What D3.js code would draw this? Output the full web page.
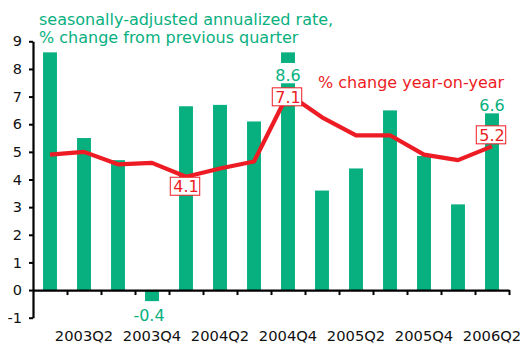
<!DOCTYPE html>
<html>
<head>
<meta charset="utf-8">
<script src="https://cdn.jsdelivr.net/npm/d3@7"></script>
<style>
  html, body { margin: 0; padding: 0; background: #fff; }
  svg { display: block; font-family: "DejaVu Sans", Verdana, sans-serif; }
</style>
</head>
<body>
<svg id="chart" width="522" height="345"></svg>
<script>
// Quarterly growth: bars = seasonally-adjusted annualized q/q rate, line = year-on-year change
const quarters = ["2003Q1","2003Q2","2003Q3","2003Q4","2004Q1","2004Q2","2004Q3",
                  "2004Q4","2005Q1","2005Q2","2005Q3","2005Q4","2006Q1","2006Q2"];
const qoqAnnualized = [8.6, 5.5, 4.7, -0.4, 6.65, 6.7, 6.1, 8.6, 3.6, 4.4, 6.5, 4.85, 3.1, 6.6];
const yoyChange     = [4.9, 5.0, 4.55, 4.6, 4.1, 4.4, 4.65, 7.1, 6.25, 5.6, 5.6, 4.9, 4.7, 5.2];
const yTicks = [-1, 0, 1, 2, 3, 4, 5, 6, 7, 8, 9];
const xTickLabels = ["2003Q2","2003Q4","2004Q2","2004Q4","2005Q2","2005Q4","2006Q2"];
const barLabelIdx = [3, 7, 13];
const lineLabelIdx = [4, 7, 13];
const titleLines = ["seasonally-adjusted annualized rate,", "% change from previous quarter"];
const lineTitle = "% change year-on-year";

const GREEN = "#08b080";
const RED = "#ed1c24";
// plain hyphen-minus for negative numbers
const locale = d3.formatLocale({ decimal: ".", thousands: ",", grouping: [3], currency: ["", ""], minus: "-" });
const fmt = locale.format(".1f");
const fmtInt = locale.format("d");

const svg = d3.select("#chart");
const plotLeft = 33, plotRight = 509, plotTop = 41.3, plotBottom = 317.7;

const x = d3.scaleBand().domain(quarters).range([plotLeft, plotRight]).padding(0);
const xEdge = d3.scaleLinear().domain([0, quarters.length]).range([plotLeft, plotRight]);
const y = d3.scaleLinear().domain([-1, 9]).range([plotBottom, plotTop]);
const barW = x.bandwidth() * 0.41;
const cx = d => x(d) + x.bandwidth() / 2;

// bars
svg.append("g").selectAll("rect")
  .data(quarters)
  .join("rect")
  .attr("x", (d) => cx(d) - barW / 2)
  .attr("width", barW)
  .attr("y", (d, i) => y(Math.max(0, qoqAnnualized[i])))
  .attr("height", (d, i) => Math.abs(y(qoqAnnualized[i]) - y(0)))
  .attr("fill", GREEN);

// y axis
const yAxis = svg.append("g")
  .attr("transform", `translate(${plotLeft},0)`)
  .call(d3.axisLeft(y).tickValues(yTicks).tickSize(4).tickSizeOuter(0).tickPadding(7).tickFormat(fmtInt));
yAxis.select(".domain").attr("stroke", "#000").attr("stroke-width", 2.2);
yAxis.selectAll(".tick line").attr("stroke", "#000").attr("stroke-width", 2);
yAxis.selectAll(".tick text").attr("font-size", 14.5).attr("fill", "#111")
  .attr("font-family", "DejaVu Sans, Verdana, sans-serif");

// x axis: tick marks at quarter boundaries
const xEdgeAxis = svg.append("g")
  .attr("transform", `translate(0,${y(0)})`)
  .call(d3.axisBottom(xEdge).tickValues(d3.range(1, quarters.length + 1)).tickSize(5).tickSizeOuter(0).tickFormat(""));
xEdgeAxis.select(".domain").attr("stroke", "#000").attr("stroke-width", 2.2);
xEdgeAxis.selectAll(".tick line").attr("stroke", "#000").attr("stroke-width", 2);

// x axis labels at every other quarter
const xLab = svg.append("g")
  .attr("transform", `translate(0,${y(0)})`)
  .call(d3.axisBottom(x).tickValues(xTickLabels).tickSize(0).tickPadding(40.9));
xLab.select(".domain").remove();
xLab.selectAll(".tick text").attr("font-size", 14.7).attr("fill", "#111")
  .attr("font-family", "DejaVu Sans, Verdana, sans-serif");

// year-on-year line
const line = d3.line().x((d, i) => cx(quarters[i])).y(d => y(d));
svg.append("path")
  .datum(yoyChange)
  .attr("d", line)
  .attr("fill", "none")
  .attr("stroke", RED)
  .attr("stroke-width", 4.2)
  .attr("stroke-linejoin", "round");

// boxed line labels
const boxPlace = { 4: "below", 7: "center", 13: "above" };
const boxG = svg.append("g");
lineLabelIdx.forEach(i => {
  const px = cx(quarters[i]), py = y(yoyChange[i]);
  const g = boxG.append("g");
  const t = g.append("text")
    .text(fmt(yoyChange[i]))
    .attr("font-size", 16)
    .attr("fill", RED)
    .attr("text-anchor", "middle")
    .attr("x", px);
  const h = 18, w = t.node().getComputedTextLength() + 4;
  let boxTop;
  if (boxPlace[i] === "below") boxTop = py + 0.5;
  else if (boxPlace[i] === "above") boxTop = py - h - 2.5;
  else boxTop = py - h / 2 + 3;
  t.attr("y", boxTop + 15);
  g.insert("rect", "text")
    .attr("x", px - w / 2 - 1).attr("y", boxTop)
    .attr("width", w).attr("height", h)
    .attr("fill", "#fff").attr("stroke", RED).attr("stroke-width", 1);
});

// bar value labels (white backing over the bar)
const barLabelOffset = { 3: 20, 7: 28.6, 13: 3.4 };
barLabelIdx.forEach(i => {
  const v = qoqAnnualized[i];
  const px = cx(quarters[i]);
  const base = y(v) + barLabelOffset[i];
  const g = svg.append("g");
  const t = g.append("text")
    .text(fmt(v))
    .attr("font-size", 16)
    .attr("fill", GREEN)
    .attr("text-anchor", "middle")
    .attr("x", v < 0 ? px - 3 : px)
    .attr("y", base);
  const w = t.node().getComputedTextLength() + 2;
  g.insert("rect", "text")
    .attr("x", px - w / 2).attr("y", base - 18)
    .attr("width", w).attr("height", 20.3)
    .attr("fill", "#fff");
});

// series titles
svg.append("text")
  .attr("x", 39).attr("font-size", 16).attr("fill", GREEN)
  .selectAll("tspan")
  .data(titleLines)
  .join("tspan")
  .attr("x", 39)
  .attr("y", (d, i) => 24.5 + i * 18.8)
  .text(d => d);

svg.append("text")
  .attr("x", 318).attr("y", 88.3)
  .attr("font-size", 16).attr("fill", RED)
  .text(lineTitle);
</script>
</body>
</html>
